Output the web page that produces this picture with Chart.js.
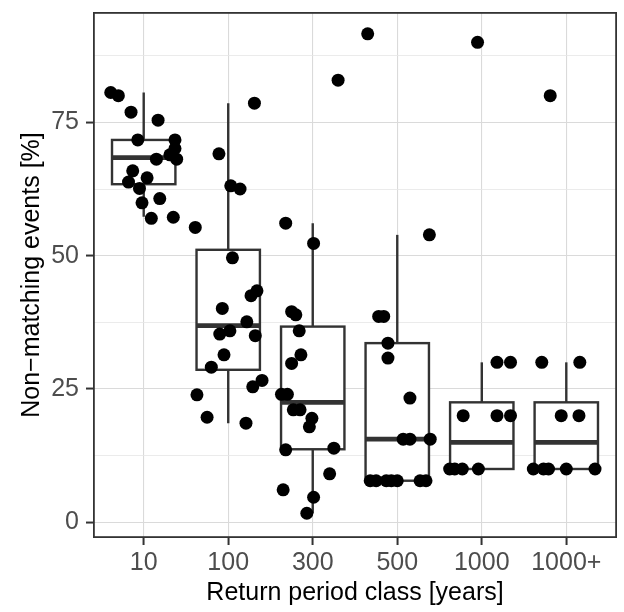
<!DOCTYPE html>
<html>
<head>
<meta charset="utf-8">
<script src="https://cdn.jsdelivr.net/npm/chart.js@4"></script>
<style>
  html, body { margin: 0; padding: 0; background: #ffffff; }
  #wrap { width: 624px; height: 612px; }
</style>
</head>
<body>
<div id="wrap"><canvas id="c" width="624" height="612"></canvas></div>
<script>
// ---- data ----
const categories = ['10', '100', '300', '500', '1000', '1000+'];

// box statistics (Non-matching events [%])
const boxQ1       = [63.4, 28.6, 13.7,  7.8, 10.0, 10.0];
const boxMedian   = [68.4, 36.9, 22.5, 15.6, 15.0, 15.0];
const boxQ3       = [71.7, 51.1, 36.7, 33.6, 22.5, 22.5];
const whiskerLow  = [57.3, 18.6,  1.7,  7.8, 10.0, 10.0];
const whiskerHigh = [80.6, 78.6, 56.1, 53.9, 30.0, 30.0];

// jittered points: values and horizontal jitter (in category units)
const values10 = [80.6, 80.0, 76.9, 75.4, 71.7, 71.7, 70.1, 68.9, 68.1, 68.1, 65.9, 64.6, 63.8, 62.6, 60.7, 59.9, 57.0, 57.2];
const jitter10 = [-0.39, -0.30, -0.15, 0.17, -0.07, 0.37, 0.37, 0.31, 0.39, 0.15, -0.13, 0.04, -0.18, -0.05, 0.19, -0.02, 0.09, 0.35];

const values100 = [78.6, 69.1, 63.1, 62.5, 55.3, 49.6, 43.4, 42.5, 40.1, 37.6, 35.9, 35.3, 35.0, 31.4, 29.1, 26.6, 25.4, 23.9, 19.7, 18.6];
const jitter100 = [0.31, -0.11, 0.03, 0.14, -0.39, 0.05, 0.34, 0.27, -0.07, 0.22, 0.02, -0.10, 0.32, -0.05, -0.20, 0.40, 0.29, -0.37, -0.25, 0.21];

const values300 = [82.9, 56.1, 52.3, 39.5, 38.9, 35.9, 31.4, 29.8, 24.0, 24.0, 21.1, 21.1, 19.5, 17.9, 13.6, 13.9, 9.1, 6.1, 4.7, 1.7];
const jitter300 = [0.30, -0.32, 0.01, -0.25, -0.20, -0.16, -0.14, -0.25, -0.37, -0.30, -0.23, -0.15, -0.01, -0.04, -0.32, 0.25, 0.20, -0.35, 0.01, -0.07];

const values500 = [91.6, 53.9, 38.6, 38.6, 33.6, 30.8, 23.3, 15.6, 15.6, 15.6, 7.8, 7.8, 7.8, 7.8, 7.8, 7.8, 7.8];
const jitter500 = [-0.35, 0.38, -0.22, -0.16, -0.11, -0.11, 0.15, 0.07, 0.15, 0.39, -0.32, -0.25, -0.13, -0.07, 0.00, 0.27, 0.34];

const values1000 = [90, 30, 30, 20, 20, 20, 10, 10, 10, 10];
const jitter1000 = [-0.05, 0.18, 0.34, -0.22, 0.18, 0.34, -0.38, -0.32, -0.23, -0.04];

const values1000plus = [80, 30, 30, 20, 20, 10, 10, 10, 10, 10];
const jitter1000plus = [-0.19, -0.29, 0.16, -0.06, 0.15, -0.39, -0.27, -0.21, 0.00, 0.34];

const yMajorTicks = [0, 25, 50, 75];
const yMinorTicks = [12.5, 37.5, 62.5, 87.5];

// ---- build ----
const pointValues = [values10, values100, values300, values500, values1000, values1000plus];
const pointJitter = [jitter10, jitter100, jitter300, jitter500, jitter1000, jitter1000plus];
const scatterData = [];
pointValues.forEach((vals, i) => {
  vals.forEach((v, j) => scatterData.push({ x: i + 1 + pointJitter[i][j], y: v }));
});

const INK = '#333333';
const GRID_MAJOR = '#DADADA';
const GRID_MINOR = '#E6E6E6';
const isMajor = v => yMajorTicks.includes(v);

const boxPlugin = {
  id: 'boxes',
  beforeDatasetsDraw(chart) {
    const ctx = chart.ctx;
    const xs = chart.scales.x, ys = chart.scales.y;
    ctx.save();
    categories.forEach((c, i) => {
      const cx = xs.getPixelForValue(i + 1);
      const x0 = xs.getPixelForValue(i + 1 - 0.375);
      const x1 = xs.getPixelForValue(i + 1 + 0.375);
      const yq1 = ys.getPixelForValue(boxQ1[i]);
      const yq3 = ys.getPixelForValue(boxQ3[i]);
      const ymed = ys.getPixelForValue(boxMedian[i]);
      const ylo = ys.getPixelForValue(whiskerLow[i]);
      const yhi = ys.getPixelForValue(whiskerHigh[i]);
      ctx.strokeStyle = INK;
      ctx.lineWidth = 2.4;
      ctx.lineCap = 'butt';
      ctx.beginPath();
      ctx.moveTo(cx, yq3); ctx.lineTo(cx, yhi);
      ctx.moveTo(cx, yq1); ctx.lineTo(cx, ylo);
      ctx.stroke();
      ctx.fillStyle = '#ffffff';
      ctx.fillRect(x0, yq3, x1 - x0, yq1 - yq3);
      ctx.strokeRect(x0, yq3, x1 - x0, yq1 - yq3);
      ctx.lineWidth = 4.8;
      ctx.beginPath();
      ctx.moveTo(x0, ymed); ctx.lineTo(x1, ymed);
      ctx.stroke();
    });
    ctx.restore();
  },
  afterDraw(chart) {
    const a = chart.chartArea;
    const ctx = chart.ctx;
    ctx.save();
    ctx.strokeStyle = INK;
    ctx.lineWidth = 1.8;
    ctx.strokeRect(a.left + 0.9, a.top + 0.9, a.right - a.left - 1.8, a.bottom - a.top - 1.8);
    ctx.restore();
  }
};

new Chart(document.getElementById('c'), {
  type: 'scatter',
  data: {
    datasets: [{
      data: scatterData,
      pointRadius: 6.5,
      pointHoverRadius: 6.5,
      pointBackgroundColor: '#000000',
      pointBorderWidth: 0,
      borderWidth: 0
    }]
  },
  options: {
    responsive: false,
    animation: false,
    devicePixelRatio: 1,
    layout: { padding: { top: 12, right: 7, left: 0, bottom: 0 } },
    plugins: { legend: { display: false }, tooltip: { enabled: false } },
    scales: {
      x: {
        type: 'linear',
        min: 0.4,
        max: 6.6,
        afterBuildTicks: s => { s.ticks = categories.map((c, i) => ({ value: i + 1 })); },
        afterFit: s => { s.height = 74; s.paddingLeft = 0; s.paddingRight = 0; },
        border: { display: false },
        grid: {
          color: GRID_MAJOR,
          lineWidth: 1.1,
          drawTicks: true,
          tickLength: 7,
          tickColor: INK,
          tickWidth: 2
        },
        ticks: {
          autoSkip: false,
          maxRotation: 0,
          minRotation: 0,
          padding: 3,
          color: '#4D4D4D',
          font: { family: 'Liberation Sans, Arial, sans-serif', size: 25 },
          callback: (v, i) => categories[i]
        },
        title: {
          display: true,
          text: 'Return period class [years]',
          color: '#000000',
          padding: 6,
          font: { family: 'Liberation Sans, Arial, sans-serif', size: 25, lineHeight: 1 }
        }
      },
      y: {
        type: 'linear',
        min: -2.94,
        max: 95.69,
        afterBuildTicks: s => {
          s.ticks = yMajorTicks.concat(yMinorTicks).sort((a, b) => a - b).map(v => ({ value: v }));
        },
        afterFit: s => { s.width = 93; s.paddingTop = 0; s.paddingBottom = 0; },
        border: { display: false },
        grid: {
          color: c => (c.tick && isMajor(c.tick.value)) ? GRID_MAJOR : GRID_MINOR,
          lineWidth: c => (c.tick && isMajor(c.tick.value)) ? 1.1 : 0.8,
          drawTicks: true,
          tickLength: 7,
          tickColor: c => (c.tick && isMajor(c.tick.value)) ? INK : 'rgba(0,0,0,0)',
          tickWidth: 2
        },
        ticks: {
          autoSkip: false,
          padding: 7,
          color: '#4D4D4D',
          font: { family: 'Liberation Sans, Arial, sans-serif', size: 25 },
          callback: v => isMajor(v) ? String(v) : ''
        },
        title: {
          display: true,
          text: 'Non\u2212matching events [%]',
          color: '#000000',
          padding: 20,
          font: { family: 'Liberation Sans, Arial, sans-serif', size: 25, lineHeight: 1 }
        }
      }
    }
  },
  plugins: [boxPlugin]
});
</script>
</body>
</html>
